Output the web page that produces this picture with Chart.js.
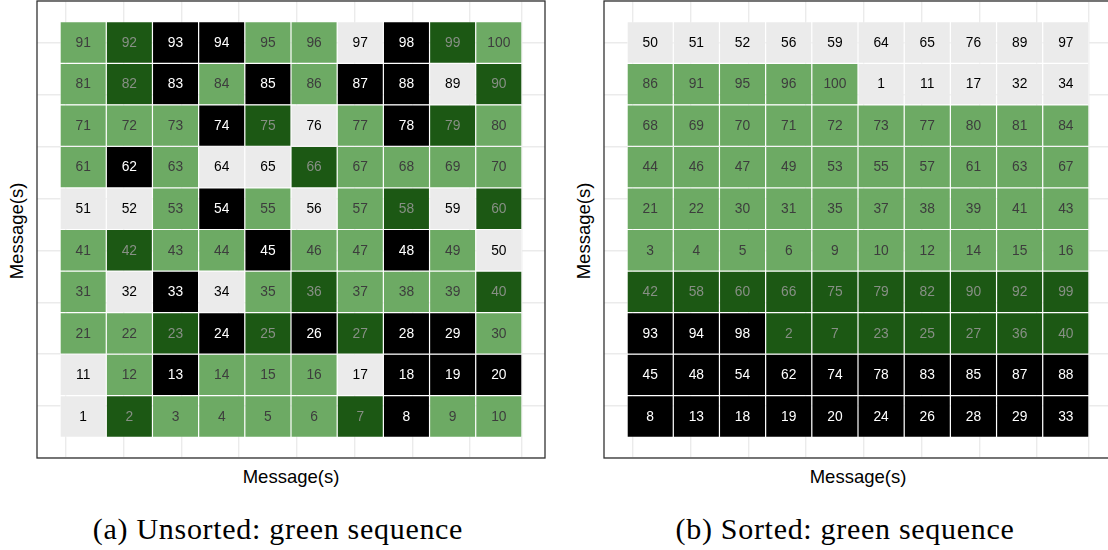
<!DOCTYPE html>
<html>
<head>
<meta charset="utf-8">
<script src="https://cdn.jsdelivr.net/npm/chart.js@4/dist/chart.umd.min.js"></script>
<style>
  html, body { margin: 0; padding: 0; background: #fff; }
  body { position: relative; width: 1108px; height: 550px; overflow: hidden;
         font-family: "Liberation Sans", Arial, sans-serif; color: #000; }
  canvas { position: absolute; }
  .ytitle { position: absolute; transform: translate(-50%, -50%) rotate(-90deg);
            font-size: 18.5px; white-space: nowrap; }
  .xtitle { position: absolute; transform: translate(-50%, -50%);
            font-size: 18.5px; white-space: nowrap; }
  .caption { position: absolute; transform: translate(-50%, -50%);
             font-family: "Liberation Serif", "Times New Roman", serif;
             font-size: 30px; letter-spacing: 0.7px; white-space: nowrap; }
</style>
</head>
<body>
<canvas id="unsorted" width="510" height="460" style="left:36px;top:0px"></canvas>
<canvas id="sorted" width="510" height="460" style="left:603px;top:0px"></canvas>

<div class="ytitle" style="left:17px;top:231px">Message(s)</div>
<div class="xtitle" style="left:291px;top:477px">Message(s)</div>
<div class="caption" style="left:278px;top:529px">(a) Unsorted: green sequence</div>

<div class="ytitle" style="left:584px;top:231px">Message(s)</div>
<div class="xtitle" style="left:858px;top:477px">Message(s)</div>
<div class="caption" style="left:845px;top:529px">(b) Sorted: green sequence</div>

<script>
// Grid coordinates: columns left to right, rows listed top to bottom
const columns = [1, 2, 3, 4, 5, 6, 7, 8, 9, 10];
const rowLevels = [10, 9, 8, 7, 6, 5, 4, 3, 2, 1];

// Message numbers laid out in natural order
const unsortedGrid = [
  [91, 92, 93, 94, 95, 96, 97, 98, 99, 100],
  [81, 82, 83, 84, 85, 86, 87, 88, 89, 90],
  [71, 72, 73, 74, 75, 76, 77, 78, 79, 80],
  [61, 62, 63, 64, 65, 66, 67, 68, 69, 70],
  [51, 52, 53, 54, 55, 56, 57, 58, 59, 60],
  [41, 42, 43, 44, 45, 46, 47, 48, 49, 50],
  [31, 32, 33, 34, 35, 36, 37, 38, 39, 40],
  [21, 22, 23, 24, 25, 26, 27, 28, 29, 30],
  [11, 12, 13, 14, 15, 16, 17, 18, 19, 20],
  [1, 2, 3, 4, 5, 6, 7, 8, 9, 10]
];

// Same messages grouped by class
const sortedGrid = [
  [50, 51, 52, 56, 59, 64, 65, 76, 89, 97],
  [86, 91, 95, 96, 100, 1, 11, 17, 32, 34],
  [68, 69, 70, 71, 72, 73, 77, 80, 81, 84],
  [44, 46, 47, 49, 53, 55, 57, 61, 63, 67],
  [21, 22, 30, 31, 35, 37, 38, 39, 41, 43],
  [3, 4, 5, 6, 9, 10, 12, 14, 15, 16],
  [42, 58, 60, 66, 75, 79, 82, 90, 92, 99],
  [93, 94, 98, 2, 7, 23, 25, 27, 36, 40],
  [45, 48, 54, 62, 74, 78, 83, 85, 87, 88],
  [8, 13, 18, 19, 20, 24, 26, 28, 29, 33]
];

// Class membership of each message
const greyMessages = [1, 11, 17, 32, 34, 50, 51, 52, 56, 59, 64, 65, 76, 89, 97];
const lightGreenMessages = [3, 4, 5, 6, 9, 10, 12, 14, 15, 16, 21, 22, 30, 31, 35, 37, 38, 39, 41, 43,
  44, 46, 47, 49, 53, 55, 57, 61, 63, 67, 68, 69, 70, 71, 72, 73, 77, 80, 81, 84, 86, 91, 95, 96, 100];
const darkGreenMessages = [2, 7, 23, 25, 27, 36, 40, 42, 58, 60, 66, 75, 79, 82, 90, 92, 99];
const blackMessages = [8, 13, 18, 19, 20, 24, 26, 28, 29, 33, 45, 48, 54, 62, 74, 78, 83, 85, 87, 88, 93, 94, 98];

const classStyles = [
  { members: greyMessages,       fill: '#ebebeb', text: '#000000' },
  { members: lightGreenMessages, fill: '#6daa64', text: '#3d3d3d' },
  { members: darkGreenMessages,  fill: '#1c5814', text: '#878f85' },
  { members: blackMessages,      fill: '#000000', text: '#ffffff' }
];

function styleOf(msg) {
  return classStyles.find(s => s.members.includes(msg));
}

function buildDataset(grid) {
  const data = [], fills = [], texts = [], labels = [];
  grid.forEach((row, r) => {
    row.forEach((msg, c) => {
      const y = rowLevels[r];
      data.push({ x: columns[c], y: [y - 0.5, y + 0.5] });
      const st = styleOf(msg);
      fills.push(st.fill);
      texts.push(st.text);
      labels.push(msg);
    });
  });
  return {
    data,
    backgroundColor: fills,
    borderColor: '#ffffff',
    borderWidth: 0.6,
    borderSkipped: false,
    inflateAmount: 0,
    barPercentage: 1,
    categoryPercentage: 1,
    cellLabels: labels,
    textColors: texts
  };
}

// Writes each message number in the middle of its tile
const cellText = {
  id: 'cellText',
  afterDatasetsDraw(chart) {
    const ctx = chart.ctx;
    ctx.save();
    ctx.font = '13.8px "Liberation Sans", Arial, sans-serif';
    ctx.textAlign = 'center';
    ctx.textBaseline = 'middle';
    chart.data.datasets.forEach((ds, i) => {
      chart.getDatasetMeta(i).data.forEach((el, j) => {
        const p = el.getCenterPoint();
        ctx.fillStyle = ds.textColors[j];
        ctx.fillText(String(ds.cellLabels[j]), p.x, p.y + 0.5);
      });
    });
    ctx.restore();
  }
};

// Dark frame around the plotting panel
const panelFrame = {
  id: 'panelFrame',
  afterDraw(chart) {
    const a = chart.chartArea, ctx = chart.ctx;
    ctx.save();
    ctx.strokeStyle = '#333333';
    ctx.lineWidth = 1.3;
    ctx.strokeRect(a.left, a.top, a.right - a.left, a.bottom - a.top);
    ctx.restore();
  }
};

function axisOptions() {
  return {
    type: 'linear',
    min: 0,
    max: 11,
    offset: false,
    ticks: { display: false, stepSize: 1.25 },
    grid: { color: '#ebebeb', lineWidth: 1.4, drawTicks: false },
    border: { display: false }
  };
}

function makeChart(id, grid) {
  return new Chart(document.getElementById(id), {
    type: 'bar',
    data: { datasets: [buildDataset(grid)] },
    options: {
      responsive: false,
      devicePixelRatio: 1,
      animation: false,
      events: [],
      layout: { padding: { left: 1, right: 1, top: 1, bottom: 2 } },
      scales: { x: axisOptions(), y: axisOptions() },
      plugins: { legend: { display: false }, tooltip: { enabled: false } }
    },
    plugins: [cellText, panelFrame]
  });
}

makeChart('unsorted', unsortedGrid);
makeChart('sorted', sortedGrid);
</script>
</body>
</html>
